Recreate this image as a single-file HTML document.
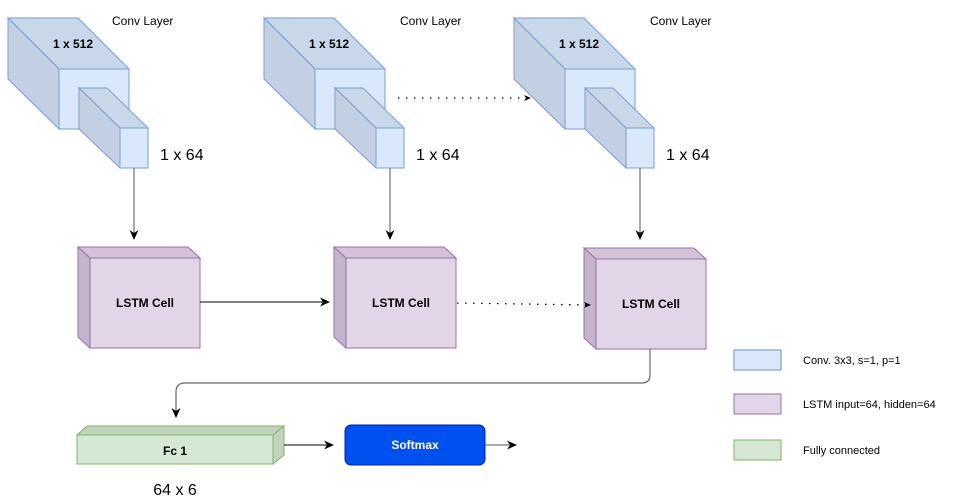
<!DOCTYPE html>
<html><head><meta charset="utf-8"><style>
html,body{margin:0;padding:0;background:#fff;}
svg{display:block;font-family:"Liberation Sans",Helvetica,Arial,sans-serif;}
</style></head><body>
<svg width="955" height="502" viewBox="0 0 955 502" xmlns="http://www.w3.org/2000/svg">
<defs>
<marker id="ah" markerWidth="12" markerHeight="12" refX="9" refY="6" orient="auto" markerUnits="userSpaceOnUse">
<path d="M0,1.5 L10,6 L0,10.5 L3,6 Z" fill="#000"/>
</marker>
<marker id="ahs" markerWidth="8" markerHeight="8" refX="6" refY="4" orient="auto" markerUnits="userSpaceOnUse">
<path d="M0,1 L7,4 L0,7 L2,4 Z" fill="#000"/>
</marker>
<g id="conv">
  <polygon points="8,18 78,18 129,69 59,69" fill="#c9d7ea" stroke="#7f9ccc" stroke-width="1"/>
  <polygon points="8,18 59,69 59,129 8,79" fill="#c3d0e3" stroke="#7f9ccc" stroke-width="1"/>
  <rect x="59" y="69" width="70" height="60" fill="#dae8fc" stroke="#7f9ccc" stroke-width="1"/>
  <polygon points="79,88 107,88 148,128 120,128" fill="#c9d7ea" stroke="#7f9ccc" stroke-width="1"/>
  <polygon points="79,88 120,128 120,168 79,129" fill="#c3d0e3" stroke="#7f9ccc" stroke-width="1"/>
  <rect x="120" y="128" width="28" height="40" fill="#dae8fc" stroke="#7f9ccc" stroke-width="1"/>
  <text x="73" y="48" font-size="12" font-weight="bold" text-anchor="middle">1 x 512</text>
  <text x="160" y="160" font-size="16">1 x 64</text>
  <line x1="134" y1="168" x2="134" y2="239" stroke="#555" stroke-width="1" marker-end="url(#ah)"/>
</g>
<g id="lstm">
  <polygon points="78,247 188,247 200,258 90,258" fill="#d3c2d8" stroke="#9673a6" stroke-width="1"/>
  <polygon points="78,247 90,258 90,348 78,337" fill="#c6b3cc" stroke="#9673a6" stroke-width="1"/>
  <rect x="90" y="258" width="110" height="90" fill="#e1d5e7" stroke="#9673a6" stroke-width="1"/>
  <text x="145" y="307" font-size="12" font-weight="bold" text-anchor="middle">LSTM Cell</text>
</g>
</defs>

<use href="#conv"/>
<use href="#conv" transform="translate(256,0)"/>
<use href="#conv" transform="translate(506,0)"/>

<text x="112" y="25" font-size="12">Conv Layer</text>
<text x="400" y="25" font-size="12">Conv Layer</text>
<text x="650" y="25" font-size="12">Conv Layer</text>

<line x1="398" y1="98" x2="530" y2="98" stroke="#000" stroke-width="1.3" stroke-dasharray="1.5,6.5" marker-end="url(#ahs)"/>

<use href="#lstm"/>
<use href="#lstm" transform="translate(256,0)"/>
<use href="#lstm" transform="translate(506,1)"/>

<line x1="200" y1="302" x2="329" y2="302" stroke="#000" stroke-width="1" marker-end="url(#ah)"/>
<line x1="457" y1="303" x2="590" y2="305" stroke="#000" stroke-width="1.3" stroke-dasharray="1.5,6.5" marker-end="url(#ahs)"/>

<path d="M650,349 L650,375 Q650,383 642,383 L185,383 Q176,383 176,392 L176,417" fill="none" stroke="#666" stroke-width="1.2" marker-end="url(#ah)"/>

<polygon points="77,435 87,426 284,426 273,435" fill="#c2d3bd" stroke="#82b366" stroke-width="1"/>
<polygon points="273,435 284,426 284,455 273,464" fill="#c2d3bd" stroke="#82b366" stroke-width="1"/>
<rect x="77" y="435" width="196" height="29" fill="#d5e8d4" stroke="#82b366" stroke-width="1"/>
<text x="175" y="455" font-size="12" font-weight="bold" text-anchor="middle">Fc 1</text>
<text x="175" y="495" font-size="16" text-anchor="middle">64 x 6</text>

<line x1="284" y1="445" x2="333" y2="445" stroke="#000" stroke-width="1" marker-end="url(#ah)"/>
<rect x="345" y="425" width="140" height="40" rx="6" fill="#0050ef" stroke="#001dbc" stroke-width="1"/>
<text x="415" y="449" font-size="12" font-weight="bold" fill="#fff" text-anchor="middle">Softmax</text>
<line x1="485" y1="445" x2="516" y2="445" stroke="#555" stroke-width="1" marker-end="url(#ah)"/>

<rect x="734" y="350" width="47" height="20" fill="#dae8fc" stroke="#6c8ebf"/>
<text x="803" y="364" font-size="11">Conv. 3x3, s=1, p=1</text>
<rect x="734" y="394" width="47" height="20" fill="#e1d5e7" stroke="#9673a6"/>
<text x="803" y="408" font-size="11">LSTM input=64, hidden=64</text>
<rect x="734" y="440" width="47" height="20" fill="#d5e8d4" stroke="#82b366"/>
<text x="803" y="454" font-size="11">Fully connected</text>
</svg>
</body></html>
